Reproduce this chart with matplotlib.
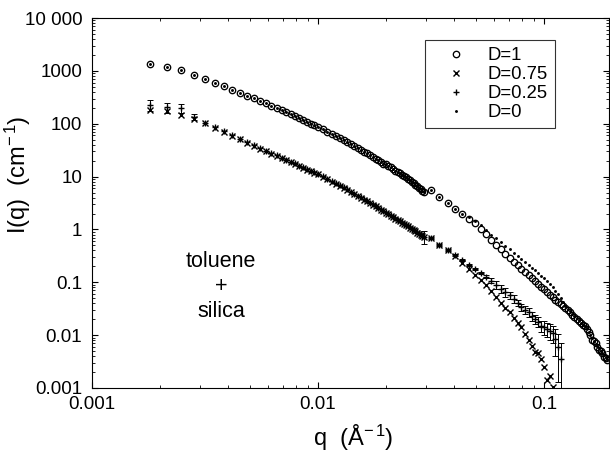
import matplotlib
matplotlib.use("Agg")
import matplotlib.pyplot as plt
import numpy as np

plt.rcParams['font.family'] = ['Liberation Sans', 'DejaVu Sans']
plt.rcParams['mathtext.fontset'] = 'custom'
plt.rcParams['mathtext.rm'] = 'Liberation Sans'
plt.rcParams['mathtext.it'] = 'Liberation Sans:italic'
plt.rcParams['mathtext.default'] = 'regular'

# --- datos ---
# configuración de bajo q (las curvas D=1 y D=0 coinciden, igual que D=0.75 y D=0.25)
q_low = [0.0018, 0.00214, 0.00248, 0.00282, 0.00316, 0.0035, 0.00384, 0.00418, 0.00452, 0.00486,
         0.0052, 0.00554, 0.00588, 0.00622, 0.00656, 0.0069, 0.00724, 0.00758, 0.00792, 0.00826,
         0.0086, 0.00894, 0.00928, 0.00962, 0.00996, 0.0105, 0.011, 0.0115, 0.012, 0.0125,
         0.013, 0.0135, 0.014, 0.0145, 0.015, 0.0155, 0.016, 0.0165, 0.017, 0.0175,
         0.018, 0.0185, 0.019, 0.0195, 0.020, 0.0205, 0.021, 0.0215, 0.022, 0.0225,
         0.023, 0.0235, 0.024, 0.0245, 0.025, 0.0255, 0.026, 0.0265, 0.027, 0.0275,
         0.028, 0.0285, 0.029, 0.0295]
I_upper_low = [1365, 1186, 1035, 851, 708, 596, 509, 441, 385, 341,
               303, 270, 243, 219, 199, 180, 165, 151, 139, 128,
               118, 109, 101, 94.2, 87.8, 78.4, 70.9, 64.4, 58.9, 53.9,
               49.2, 44.9, 41.1, 37.8, 34.8, 32.2, 29.8, 27.5, 25.4, 23.5,
               21.8, 20.3, 18.9, 17.6, 17.0, 16.0, 15.0, 14.1, 13.0, 12.3,
               11.6, 10.9, 10.3, 9.7, 9.2, 8.6, 8.05, 7.5, 7.0, 6.55,
               6.15, 5.8, 5.45, 5.1]
I_d075_low = [185, 172, 148, 122, 102, 84.3, 70.8, 59.6, 50.6, 43.5,
              38.0, 33.7, 30.0, 27.0, 24.5, 22.3, 20.4, 18.7, 17.3, 15.9,
              14.7, 13.6, 12.7, 11.8, 11.1, 9.85, 8.89, 8.06, 7.34, 6.71,
              6.11, 5.57, 5.10, 4.67, 4.30, 3.97, 3.67, 3.39, 3.14, 2.92,
              2.72, 2.53, 2.37, 2.22, 2.08, 1.94, 1.82, 1.71, 1.61, 1.51,
              1.42, 1.34, 1.27, 1.20, 1.14, 1.08, 1.02, 0.968, 0.918, 0.873,
              0.830, 0.791, 0.754, 0.719]
I_d025_low = [228, 207, 200, 135, 104, 86.0, 72.5, 60.5, 51.8, 44.2,
              38.9, 34.2, 30.8, 27.5, 25.1, 22.7, 20.9, 19.0, 17.7, 16.2,
              15.0, 13.9, 12.9, 12.1, 11.3, 10.1, 9.05, 8.25, 7.48, 6.86,
              6.22, 5.70, 5.20, 4.78, 4.38, 4.05, 3.74, 3.46, 3.20, 2.98,
              2.77, 2.59, 2.42, 2.26, 2.12, 1.98, 1.86, 1.74, 1.64, 1.54,
              1.45, 1.37, 1.29, 1.22, 1.16, 1.10, 1.04, 0.985, 0.935, 0.888,
              0.845, 0.805, 0.767, 0.73]
err_d025_low = [50, 45, 40, 15] + [0] * 59 + [0.2]

# configuración de alto q
q_high = [0.0315, 0.0345, 0.0375, 0.0405, 0.0435, 0.0465, 0.0495, 0.0525, 0.0555, 0.0585,
          0.0615, 0.0645, 0.0675, 0.0705, 0.0735, 0.0765, 0.0795, 0.0825, 0.0855, 0.0885,
          0.0915, 0.0945, 0.0975, 0.1005, 0.1035, 0.1065, 0.1095, 0.1125, 0.1155, 0.1185,
          0.1215, 0.1245, 0.1275, 0.1305, 0.1335, 0.1365, 0.1395, 0.1425, 0.1455, 0.1485,
          0.1515, 0.1545, 0.1575, 0.1605, 0.1635, 0.1665, 0.1695, 0.1725, 0.1755, 0.1785,
          0.1815, 0.1845, 0.1875, 0.1905]
I_d1_high = [5.52, 4.12, 3.15, 2.45, 1.97, 1.61, 1.33, 1.04, 0.804, 0.63,
             0.509, 0.42, 0.349, 0.292, 0.247, 0.212, 0.182, 0.158, 0.1375, 0.120,
             0.1057, 0.0931, 0.0822, 0.0731, 0.0652, 0.0582, 0.0521, 0.0471, 0.0428, 0.0389,
             0.0354, 0.0324, 0.0296, 0.0271, 0.0245, 0.0223, 0.0203, 0.0185, 0.0169, 0.0155,
             0.0150, 0.0130, 0.0113, 0.00989, 0.0080, 0.00762, 0.0072, 0.00601, 0.0052, 0.00495,
             0.00452, 0.0039, 0.00377, 0.00344]
I_d0_high = [5.6, 4.15, 3.2, 2.48, 2.0, 1.69, 1.46, 1.2, 0.965, 0.80,
             0.677, 0.58, 0.496, 0.426, 0.366, 0.318, 0.277, 0.243, 0.2145, 0.19,
             0.169, 0.151, 0.134, 0.119, 0.106, 0.0931, 0.0808, 0.0683, 0.059, 0.0498,
             0.0418, 0.0356, 0.031, 0.0282, 0.0252, 0.0229, 0.0208, 0.019, 0.0173, 0.0158,
             0.0146, 0.0134, 0.0117, 0.0102, 0.0089, 0.0079, 0.0069, 0.0062, 0.0056, 0.0051,
             0.0046, 0.0042, 0.0039, 0.0035]
I_d025_high = [0.70, 0.51, 0.41, 0.33, 0.26, 0.212, 0.178, 0.150, 0.128, 0.107,
               0.090, 0.076, 0.065, 0.057, 0.049, 0.041, 0.034, 0.030, 0.027, 0.0232,
               0.0205, 0.018, 0.0152, 0.0142, 0.0132, 0.0122, 0.0112, 0.0085, 0.0059, 0.0035]
err_d025_high = [0.03, 0.02, 0.015, 0.012, 0.01, 0.009, 0.008, 0.008, 0.009, 0.012,
                 0.014, 0.013, 0.012, 0.009, 0.008, 0.006, 0.005, 0.005, 0.005, 0.0045,
                 0.004, 0.004, 0.0035, 0.004, 0.004, 0.004, 0.004, 0.0045, 0.0046, 0.0035]
I_d075_high = [0.69, 0.50, 0.40, 0.315, 0.235, 0.178, 0.140, 0.112, 0.090, 0.068,
               0.052, 0.040, 0.032, 0.027, 0.021, 0.017, 0.0140, 0.0105, 0.0080, 0.0062,
               0.0048, 0.0046, 0.0035, 0.0025, 0.0014, 0.0017, 0.00105]

x_ticks = [0.001, 0.01, 0.1]
x_ticklabels = ['0.001', '0.01', '0.1']
y_ticks = [0.001, 0.01, 0.1, 1, 10, 100, 1000, 10000]
y_ticklabels = ['0.001', '0.01', '0.1', '1', '10', '100', '1000', '10 000']
labels = ['D=1', 'D=0.75', 'D=0.25', 'D=0']

# juntamos las dos configuraciones
q_d1 = np.array(q_low + q_high)
I_d1 = np.array(I_upper_low + I_d1_high)
q_d0 = q_d1
I_d0 = np.array(I_upper_low + I_d0_high)
q_d075 = np.array(q_low + q_high[:len(I_d075_high)])
I_d075 = np.array(I_d075_low + I_d075_high)
q_d025 = np.array(q_low + q_high[:len(I_d025_high)])
I_d025 = np.array(I_d025_low + I_d025_high)
e_d025 = np.array(err_d025_low + err_d025_high)

fig = plt.figure(figsize=(6.1, 4.59), dpi=100)
ax = fig.add_axes([0.1508, 0.1547, 0.8475, 0.806])

h1, = ax.plot(q_d1, I_d1, 'o', mfc='none', mec='black', ms=4.6, mew=0.95, label=labels[0])
h2, = ax.plot(q_d075, I_d075, 'x', color='black', ms=4.6, mew=1.0, label=labels[1])
h3, = ax.plot(q_d025, I_d025, '+', color='black', ms=5.0, mew=1.0, label=labels[2])
m = e_d025 > 0
ax.errorbar(q_d025[m], I_d025[m], yerr=e_d025[m], fmt='none', ecolor='black',
            elinewidth=0.7, capsize=2.4, capthick=0.7)
h4, = ax.plot(q_d0, I_d0, 'o', color='black', ms=2.1, mew=0, label=labels[3])

ax.set_xscale('log')
ax.set_yscale('log')
ax.set_xlim(0.001, 0.194)
ax.set_ylim(0.001, 10000)
ax.set_xticks(x_ticks)
ax.set_xticklabels(x_ticklabels)
ax.set_yticks(y_ticks)
ax.set_yticklabels(y_ticklabels)
ax.tick_params(which='both', direction='in', top=True, right=True, labelsize=13.5)
ax.tick_params(which='major', length=4.5, width=0.8)
ax.tick_params(which='minor', length=2.3, width=0.6)
ax.tick_params(axis='y', pad=7)
ax.tick_params(axis='x', pad=6)
for s in ax.spines.values():
    s.set_linewidth(0.8)

ax.set_xlabel(r'q  (Å$^{-\,1}$)', fontsize=17)
ax.set_ylabel(r'I(q)  (cm$^{-\,1}$)', fontsize=17)
ax.xaxis.set_label_coords(0.505, -0.095)
ax.yaxis.set_label_coords(-0.115, 0.575)

ax.text(0.00372, 0.084, 'toluene\n+\nsilica', ha='center', va='center', fontsize=15.5,
        linespacing=1.25)

leg = ax.legend(handles=[h1, h2, h3, h4], loc='upper left', bbox_to_anchor=(0.644, 0.9405),
                fontsize=13.3, frameon=True, fancybox=False, edgecolor='black',
                handlelength=2.6, handletextpad=0.4, borderpad=0.4, labelspacing=0.1,
                borderaxespad=0)
leg.get_frame().set_linewidth(0.8)

fig.savefig('out.png', dpi=100)
